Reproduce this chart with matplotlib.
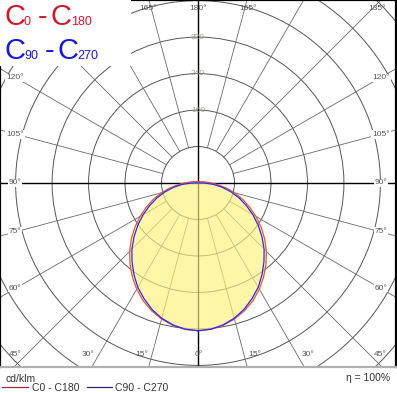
import numpy as np
import matplotlib
matplotlib.use("Agg")
import matplotlib.pyplot as plt
from matplotlib.patches import Circle, Rectangle

plt.rcParams["font.family"] = ["Liberation Sans", "DejaVu Sans"]

# luminous intensity, cd/klm, gamma 0 = straight down, 5 degree steps
GAMMA = list(range(0, 181, 5))
C0_C180 = [324, 322, 317, 309, 298, 285, 269, 251, 232, 212, 191, 169, 147, 125, 104,
           83, 63, 44, 30, 20, 15, 11, 9, 7, 6, 5, 5, 4, 4, 4, 3, 3, 3, 3, 3, 3, 3]
C90_C270 = [324, 322, 316, 307, 295, 280, 264, 245, 225, 205, 183, 161, 139, 117, 96,
            75, 54, 34, 14, 4, 0, 0, 0, 0, 0, 0, 0, 0, 0, 0, 0, 0, 0, 0, 0, 0, 0]

RINGS = [80, 160, 240, 320, 400, 480, 560]
RING_LABELS = [160, 240, 320]
SIDE_ANGLES = [60, 75, 90, 105, 120]
BOTTOM_ANGLES = [15, 30, 45]
TOP_ANGLES = [165]

W_PX, H_PX = 397, 393
AX_W, AX_H = 396, 367      # frame of the polar diagram, pixels
CX, CY = 198, 183          # pole position inside the frame, pixels
PX = 0.456                 # pixels per cd/klm

RED = "#d0182c"
BLUE = "#1818d8"
GRID = "#555555"
LABEL = "#555555"


def to_data(x_px, y_px):
    return (x_px - CX) / PX, (CY - y_px) / PX


def closed_curve(values):
    g = np.radians(GAMMA)
    r = np.array(values, dtype=float)
    xs = np.concatenate([r * np.sin(g), (-r * np.sin(g))[::-1]])
    ys = np.concatenate([-r * np.cos(g), (-r * np.cos(g))[::-1]])
    return xs, ys


fig = plt.figure(figsize=(W_PX / 100, H_PX / 100), dpi=100)
ax = fig.add_axes([0, (H_PX - AX_H) / H_PX, AX_W / W_PX, AX_H / H_PX])
ax.set_xlim(-CX / PX, (AX_W - CX) / PX)
ax.set_ylim(-(AX_H - CY) / PX, CY / PX)
ax.set_xticks([])
ax.set_yticks([])
for side in ["top", "left", "right"]:
    ax.spines[side].set_color("black")
    ax.spines[side].set_linewidth(1.6)
ax.spines["bottom"].set_color("#b0b0b0")
ax.spines["bottom"].set_linewidth(1.6)

# grid
for r in RINGS:
    ax.add_patch(Circle((0, 0), r, fill=False, ec=GRID, lw=0.7, zorder=1))
for g in range(15, 180, 15):
    if g == 90:
        continue
    t = np.radians(g)
    for s in (-1, 1):
        ax.plot([s * 80 * np.sin(t), s * 900 * np.sin(t)],
                [-80 * np.cos(t), -900 * np.cos(t)],
                color="#6a6a6a", lw=0.6, zorder=1)
ax.axvline(0, color="black", lw=1.0, zorder=1)
ax.axhline(0, color="black", lw=1.0, zorder=1)

# distribution curves
xs, ys = closed_curve(C0_C180)
ax.fill(xs, ys, color="#fff27a", alpha=0.65, lw=0, zorder=2)
ax.plot(xs, ys, color="#e8582e", lw=0.9, zorder=3)
xb, yb = closed_curve(C90_C270)
ax.plot(xb, yb, color="#2a2aff", lw=0.9, zorder=3)

# ring values
for r in RING_LABELS:
    ax.text(0, r, str(r), fontsize=6, color="#a0a088", ha="center", va="center", zorder=4)

# angle labels
lab = dict(fontsize=6, color=LABEL, zorder=4)
box = dict(facecolor="white", edgecolor="none", pad=0.6)
for g in SIDE_ANGLES:
    dy = 182 * np.cos(np.radians(g)) / np.sin(np.radians(g))
    for s in (-1, 1):
        x, y = to_data(CX + s * 183, CY + dy)
        ax.text(x, y, f"{g}°", ha="center", va="center", bbox=box, **lab)
for g in BOTTOM_ANGLES:
    off = 172 * np.tan(np.radians(g))
    x, y = to_data(CX + off + 4, 355)
    ax.text(x, y, f"{g}°", ha="left", va="center", **lab)
    x, y = to_data(CX - off - 4, 355)
    ax.text(x, y, f"{g}°", ha="right", va="center", **lab)
x, y = to_data(CX + 1, 355)
ax.text(x, y, "0°", ha="center", va="center", **lab)
for g in TOP_ANGLES:
    off = 174 * abs(np.tan(np.radians(g))) + 3
    for s in (-1, 1):
        x, y = to_data(CX + s * off, 9)
        ax.text(x, y, f"{g}°", ha="center", va="center", **lab)
x, y = to_data(CX, 9)
ax.text(x, y, "180°", ha="center", va="center", **lab)
# the left 135° label sits under the plane legend, only the right one shows
x, y = to_data(CX + 174 + 5, 9)
ax.text(x, y, "135°", ha="center", va="center", **lab)

# plane legend in the top-left corner
ax.add_patch(Rectangle((0, 1 - 66 / AX_H), 131 / AX_W, 66 / AX_H,
                       transform=ax.transAxes, fc="white", ec="none", zorder=5))


def ftext(x_px, y_px, s, **kw):
    return fig.text(x_px / W_PX, 1 - y_px / H_PX, s, va="baseline", zorder=6, **kw)


renderer = fig.canvas.get_renderer()
big, small = 21, 9
for y0, color, c1, c2 in [(25, RED, "0", "180"), (59, BLUE, "90", "270")]:
    x0 = 4
    for s, size, gap in [("C", big, -1), (c1, small, 7), ("-", big, 3), ("C", big, -1), (c2, small, 0)]:
        t = ftext(x0, y0, s, fontsize=size, color=color)
        x0 = t.get_window_extent(renderer).x1 + gap

# footer
ftext(6, 382, "cd/klm", fontsize=7.5, color="#333333")
ftext(390, 381, "η = 100%", fontsize=7.5, color="#333333", ha="right")
leg = fig.add_axes([0, 0, 1, 1], facecolor="none")
leg.set_xlim(0, W_PX)
leg.set_ylim(H_PX, 0)
leg.axis("off")
leg.plot([2, 28], [387, 387], color="#a02838", lw=0.9)
leg.plot([87, 112], [387, 387], color="#28287a", lw=0.9)
ftext(32, 391, "C0 - C180", fontsize=7.5, color="#333333")
ftext(115, 391, "C90 - C270", fontsize=7.5, color="#333333")

fig.savefig("out.png", dpi=100)
